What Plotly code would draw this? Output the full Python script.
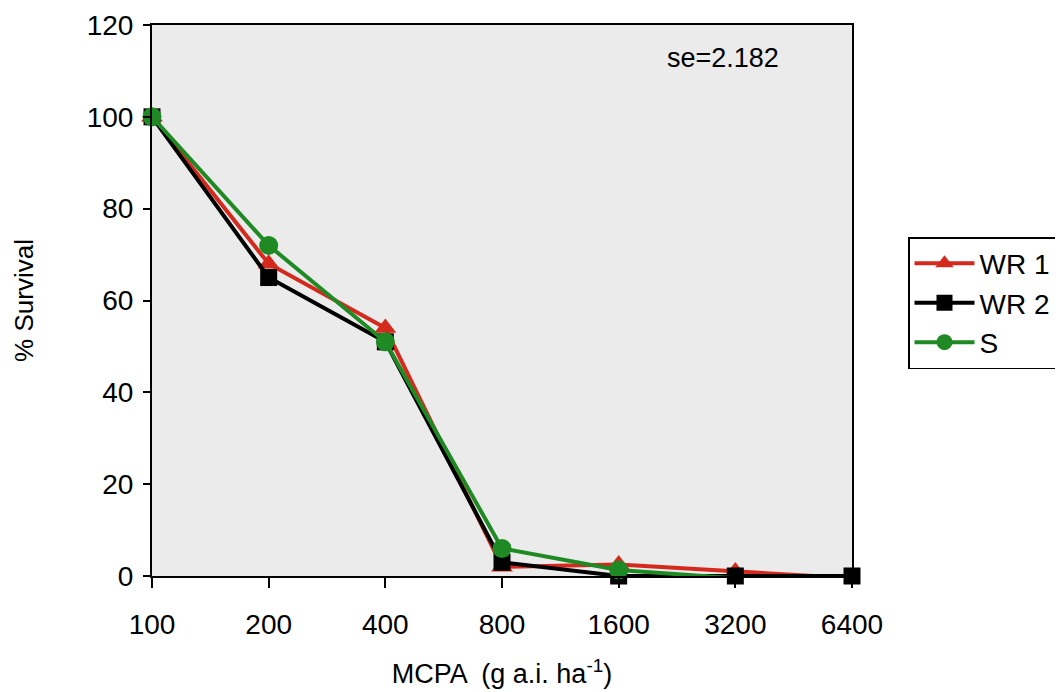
import plotly.graph_objects as go

doses = ["100", "200", "400", "800", "1600", "3200", "6400"]
pos = [0, 1, 2, 3, 4, 5, 6]

wr1 = [100, 68, 54, 2, 2.5, 1, -0.5]
wr2 = [100, 65, 51, 3, 0, 0, 0]
s_line = [100, 72, 51, 6, 1.3, -0.5, -0.5]

font_main = "Liberation Sans"

fig = go.Figure()

series = [
    ("WR 1", wr1, "#d42a1e", "triangle-up", 19),
    ("WR 2", wr2, "#000000", "square", 17),
    ("S", s_line, "#1f8a24", "circle", 19),
]

for name, vals, color, symbol, size in series:
    fig.add_trace(go.Scatter(
        x=pos, y=vals, name=name,
        mode="lines+markers",
        line=dict(color=color, width=4),
        marker=dict(symbol=symbol, size=size, color=color),
        cliponaxis=False,
    ))

# page body has an 8px margin, so plot margins are shifted by that amount
fig.add_annotation(
    x=0.816, y=0.94, xref="paper", yref="paper",
    xanchor="center", yanchor="middle",
    text="se=2.182", showarrow=False,
    font=dict(size=27, color="black", family=font_main),
)

fig.update_layout(
    width=1063, height=692,
    paper_bgcolor="white",
    plot_bgcolor="#ebebeb",
    margin=dict(l=144, r=219, t=17, b=124),
    font=dict(family=font_main, size=28, color="black"),
    showlegend=True,
    legend=dict(
        x=1.08, y=0.615, xanchor="left", yanchor="top",
        bordercolor="black", borderwidth=1.5,
        bgcolor="white",
        font=dict(size=28, family=font_main),
        itemwidth=60,
    ),
    xaxis=dict(
        range=[0, 6],
        tickvals=pos, ticktext=doses,
        tickfont=dict(size=28, family=font_main),
        showgrid=False, zeroline=False, automargin=False,
        showline=True, linecolor="black", linewidth=2, mirror=True,
        ticks="outside", ticklen=10, tickwidth=2, tickcolor="black",
        ticklabelstandoff=12,
        title=dict(text="MCPA  (g a.i. ha<sup>-1</sup>)", standoff=26,
                   font=dict(size=27, family=font_main)),
    ),
    yaxis=dict(
        range=[0, 120], dtick=20,
        tickfont=dict(size=28, family=font_main),
        showgrid=False, zeroline=False, automargin=False,
        showline=True, linecolor="black", linewidth=2, mirror=True,
        ticks="outside", ticklen=7, tickwidth=2, tickcolor="black",
        ticklabelstandoff=4,
        title=dict(text="% Survival", standoff=46,
                   font=dict(size=26, family=font_main)),
    ),
)

fig.write_html("out.html")
